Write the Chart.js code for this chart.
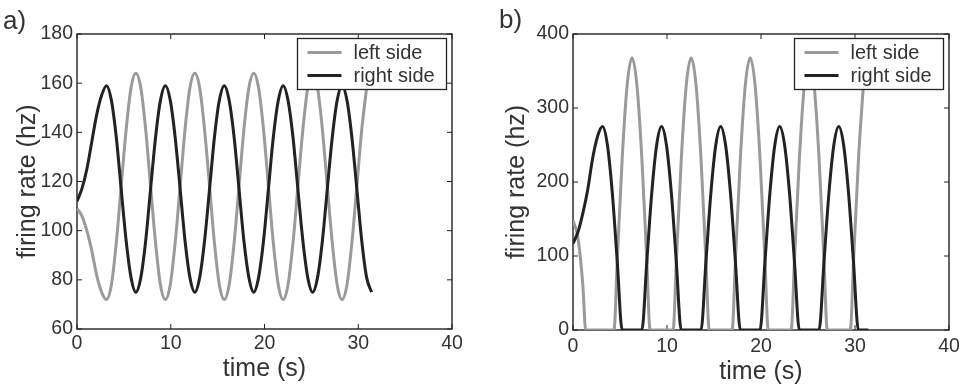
<!DOCTYPE html>
<html>
<head>
<meta charset="utf-8">
<script src="https://cdn.jsdelivr.net/npm/chart.js@4"></script>
<style>
  body { margin: 0; background: #fff; }
  #wrap { position: relative; width: 968px; height: 388px; }
  .panel { position: absolute; top: 0; width: 484px; height: 388px; }
  .tag { position: absolute; font: 26px "Liberation Sans", Arial, sans-serif; color: #333; line-height: 1; }
</style>
</head>
<body>
<div id="wrap">
  <div class="panel" style="left:0"><canvas id="chartA" width="484" height="388"></canvas></div>
  <div class="panel" style="left:484px"><canvas id="chartB" width="484" height="388"></canvas></div>
  <div class="tag" style="left:3px;top:7px">a)</div>
  <div class="tag" style="left:499px;top:6px">b)</div>
</div>
<script>
// panel a: time samples shared by both lines
const timeA = [0, 0.52, 1.05, 1.57, 2.09, 2.62, 3.14, 3.67, 4.19, 4.71, 5.24, 5.76,
  6.28, 6.81, 7.33, 7.85, 8.38, 8.9, 9.42, 9.95, 10.47, 11.0, 11.52, 12.04,
  12.57, 13.09, 13.61, 14.14, 14.66, 15.18, 15.71, 16.23, 16.76, 17.28, 17.8, 18.33,
  18.85, 19.37, 19.9, 20.42, 20.94, 21.47, 21.99, 22.51, 23.04, 23.56, 24.09, 24.61,
  25.13, 25.66, 26.18, 26.7, 27.23, 27.75, 28.27, 28.8, 29.32, 29.85, 30.37, 30.89, 31.42];
const leftA = [109, 106, 100, 92, 82, 75, 72, 78, 95, 118, 141, 158,
  164, 158, 141, 118, 95, 78, 72, 78, 95, 118, 141, 158,
  164, 158, 141, 118, 95, 78, 72, 78, 95, 118, 141, 158,
  164, 158, 141, 118, 95, 78, 72, 78, 95, 118, 141, 158,
  164, 158, 141, 118, 95, 78, 72, 78, 95, 118, 141, 158];
const rightA = [112, 117, 125, 136, 147, 155, 159, 153, 138, 117, 96, 81,
  75, 81, 96, 117, 138, 153, 159, 153, 138, 117, 96, 81,
  75, 81, 96, 117, 138, 153, 159, 153, 138, 117, 96, 81,
  75, 81, 96, 117, 138, 153, 159, 153, 138, 117, 96, 81,
  75, 81, 96, 117, 138, 153, 159, 153, 138, 117, 96, 81, 75];

// panel b: each line has its own samples (rates clipped at zero)
const timeLeftB = [0, 0.52, 1.05, 1.35,
  4.36, 4.71, 5.23, 5.76, 6.28, 6.8, 7.33, 7.85, 8.2,
  10.65, 11.0, 11.52, 12.05, 12.57, 13.09, 13.62, 14.14, 14.49,
  16.93, 17.28, 17.8, 18.33, 18.85, 19.37, 19.9, 20.42, 20.77,
  23.21, 23.56, 24.08, 24.61, 25.13, 25.65, 26.18, 26.7, 27.05,
  29.5, 29.85, 30.37, 30.89];
const leftB = [148, 125, 60, 0,
  0, 94, 231, 331, 368, 331, 231, 94, 0,
  0, 94, 231, 331, 368, 331, 231, 94, 0,
  0, 94, 231, 331, 368, 331, 231, 94, 0,
  0, 94, 231, 331, 368, 331, 231, 94, 0,
  0, 94, 231, 331];
const timeRightB = [0, 0.52, 1.05, 1.57, 2.09, 2.62, 3.14, 3.66, 4.19, 4.71, 5.23,
  7.33, 7.85, 8.37, 8.9, 9.42, 9.94, 10.47, 10.99, 11.51,
  13.62, 14.14, 14.66, 15.19, 15.71, 16.23, 16.76, 17.28, 17.8,
  19.9, 20.42, 20.94, 21.47, 21.99, 22.51, 23.04, 23.56, 24.08,
  26.18, 26.7, 27.22, 27.75, 28.27, 28.79, 29.32, 29.84, 30.36, 31.42];
const rightB = [117, 132, 158, 190, 232, 262, 275, 250, 184, 92, 0,
  0, 92, 184, 250, 275, 250, 184, 92, 0,
  0, 92, 184, 250, 275, 250, 184, 92, 0,
  0, 92, 184, 250, 275, 250, 184, 92, 0,
  0, 92, 184, 250, 275, 250, 184, 92, 0, 0];

const seriesNames = ['left side', 'right side'];
const xTitle = 'time (s)';
const yTitle = 'firing rate (hz)';

const FONT = '"Liberation Sans", Arial, sans-serif';
const TEXT = '#333';
const GRAY = '#9a9a9a';
const BLACK = '#222';

// box around the axes with inward ticks on all four sides
const frameTicks = {
  id: 'frameTicks',
  beforeDatasetsDraw(chart) {
    const {ctx, chartArea: a, scales: {x, y}} = chart;
    ctx.save();
    ctx.strokeStyle = BLACK;
    ctx.lineWidth = 1.4;
    ctx.strokeRect(a.left, a.top, a.right - a.left, a.bottom - a.top);
    ctx.lineWidth = 1;
    ctx.beginPath();
    x.ticks.forEach(t => {
      const px = x.getPixelForValue(t.value);
      ctx.moveTo(px, a.bottom); ctx.lineTo(px, a.bottom - 5);
      ctx.moveTo(px, a.top); ctx.lineTo(px, a.top + 5);
    });
    y.ticks.forEach(t => {
      const py = y.getPixelForValue(t.value);
      ctx.moveTo(a.left, py); ctx.lineTo(a.left + 5, py);
      ctx.moveTo(a.right, py); ctx.lineTo(a.right - 5, py);
    });
    ctx.stroke();
    ctx.restore();
  }
};

// boxed legend in the upper right corner of the axes
const boxLegend = {
  id: 'boxLegend',
  afterDatasetsDraw(chart) {
    const {ctx, chartArea: a} = chart;
    const w = 149, h = 51;
    const left = a.right - 5.5 - w, top = a.top + 4.5;
    ctx.save();
    ctx.fillStyle = '#fff';
    ctx.fillRect(left, top, w, h);
    ctx.strokeStyle = BLACK;
    ctx.lineWidth = 1.3;
    ctx.strokeRect(left, top, w, h);
    ctx.font = '20px ' + FONT;
    ctx.textBaseline = 'middle';
    chart.data.datasets.forEach((ds, i) => {
      const cy = top + 14 + i * 23;
      ctx.strokeStyle = ds.borderColor;
      ctx.lineWidth = 3;
      ctx.beginPath();
      ctx.moveTo(left + 10, cy);
      ctx.lineTo(left + 44, cy);
      ctx.stroke();
      ctx.fillStyle = TEXT;
      ctx.fillText(ds.label, left + 56, cy + 1);
    });
    ctx.restore();
  }
};

function points(ts, vs) {
  return vs.map((v, i) => ({x: ts[i], y: v}));
}

function makeChart(id, sets, opt) {
  return new Chart(document.getElementById(id), {
    type: 'line',
    data: {
      datasets: [
        {label: seriesNames[0], data: sets[0], borderColor: GRAY, order: 2},
        {label: seriesNames[1], data: sets[1], borderColor: BLACK, order: 1}
      ]
    },
    options: {
      responsive: false,
      animation: false,
      devicePixelRatio: 1,
      layout: {padding: {left: 0, right: opt.padRight, top: 34, bottom: 0}},
      elements: {
        line: {borderWidth: 3, cubicInterpolationMode: 'monotone', fill: false},
        point: {radius: 0}
      },
      plugins: {legend: {display: false}, tooltip: {enabled: false}},
      scales: {
        x: {
          type: 'linear', min: 0, max: 40,
          grid: {display: false, drawTicks: false}, border: {display: false},
          ticks: {stepSize: 10, padding: opt.xTickPad, color: TEXT, font: {family: FONT, size: 19.5}},
          title: {display: true, text: xTitle, color: TEXT, font: {family: FONT, size: 25},
            padding: {top: 0, bottom: opt.xTitlePad}},
          afterFit(s) { s.height = opt.xHeight; }
        },
        y: {
          min: opt.yMin, max: opt.yMax,
          grid: {display: false, drawTicks: false}, border: {display: false},
          ticks: {stepSize: opt.yStep, padding: opt.yTickPad, color: TEXT, font: {family: FONT, size: 19.5}},
          title: {display: true, text: yTitle, color: TEXT, font: {family: FONT, size: 25},
            padding: {top: opt.yTitlePad, bottom: 0}},
          afterFit(s) { s.width = opt.yWidth; }
        }
      }
    },
    plugins: [frameTicks, boxLegend]
  });
}

makeChart('chartA', [points(timeA, leftA), points(timeA, rightA)], {
  padRight: 32, xHeight: 59, yWidth: 77, yMin: 60, yMax: 180, yStep: 20,
  yTickPad: 4, yTitlePad: 13, xTitlePad: 4, xTickPad: 3.3
});

makeChart('chartB', [points(timeLeftB, leftB), points(timeRightB, rightB)], {
  padRight: 19, xHeight: 58, yWidth: 89, yMin: 0, yMax: 400, yStep: 100,
  yTickPad: 4, yTitlePad: 18.5, xTitlePad: 1, xTickPad: 4.8
});
</script>
</body>
</html>
